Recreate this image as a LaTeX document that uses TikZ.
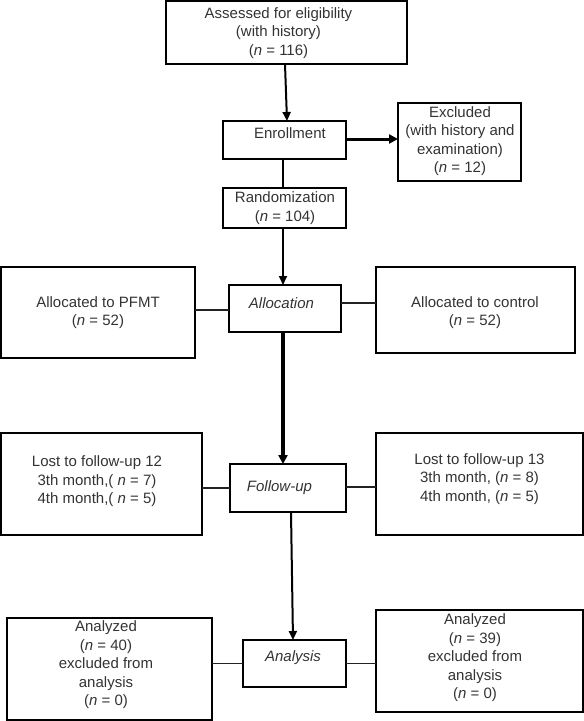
\documentclass[tikz,border=0pt]{standalone}
\usepackage{fontspec}
\setmainfont{Liberation Sans}
\usetikzlibrary{arrows.meta,calc}
\definecolor{txtgray}{HTML}{333333}
\definecolor{linegray}{HTML}{222222}
\tikzset{
  box/.style={draw=black, line width=1.9pt, inner sep=0pt, outer sep=0pt},
  txt/.style={text=txtgray, align=center, inner sep=0pt, font=\fontsize{15}{18.5}\selectfont},
  arr/.style={draw=black, line width=2pt, -{Triangle[length=9pt,width=8pt]}},
  boldarr/.style={draw=black, line width=3pt, -{Triangle[length=9pt,width=9pt]}},
  thickarr/.style={draw=black, line width=4pt, -{Triangle[length=9pt,width=9pt]}},
  plainline/.style={draw=black, line width=2pt},
  thinline/.style={draw=linegray, line width=1.3pt},
}
\begin{document}
\begin{tikzpicture}[x=1pt,y=-1pt]
\useasboundingbox (0,0) rectangle (584,721);
% boxes
\node[box, minimum width=241pt, minimum height=63pt] (assess) at (286.5,32.5) {};
\node[box, minimum width=123pt, minimum height=38pt] (enroll) at (284.5,140) {};
\node[box, minimum width=123pt, minimum height=78pt] (excl) at (459.5,142) {};
\node[box, minimum width=123pt, minimum height=40pt] (rand) at (284.5,208) {};
\node[box, minimum width=194pt, minimum height=91pt] (pfmt) at (98,312.5) {};
\node[box, minimum width=112pt, minimum height=47pt] (alloc) at (285,308.5) {};
\node[box, minimum width=199pt, minimum height=86pt] (ctrl) at (475.5,310) {};
\node[box, minimum width=201pt, minimum height=102pt] (lostl) at (101.5,484) {};
\node[box, minimum width=116pt, minimum height=48pt] (follow) at (288,488) {};
\node[box, minimum width=207pt, minimum height=102pt] (lostr) at (479.5,484) {};
\node[box, minimum width=205pt, minimum height=102pt] (anl) at (109.5,669) {};
\node[box, minimum width=103pt, minimum height=47pt] (analysis) at (294.5,663.5) {};
\node[box, minimum width=207pt, minimum height=102pt] (anr) at (479.5,661) {};
% texts
\node[txt] (tassess) at (278.5,33) {Assessed for eligibility\\(with history)\\(\textit{n} = 116)};
\node[txt] (tenroll) at (290,133) {Enrollment};
\node[txt] (texcl) at (460,141) {Excluded\\(with history and\\examination)\\(\textit{n} = 12)};
\node[txt] (trand) at (285,208) {Randomization\\(\textit{n} = 104)};
\node[txt] (tpfmt) at (98,312.5) {Allocated to PFMT\\(\textit{n} = 52)};
\node[txt] (talloc) at (281.5,303) {\textit{Allocation}};
\node[txt] (tctrl) at (475,312.5) {Allocated to control\\(\textit{n} = 52)};
\node[txt] (tlostl) at (97,481.5) {Lost to follow-up 12\\3th month,( \textit{n} = 7)\\4th month,( \textit{n} = 5)};
\node[txt] (tfollow) at (279.5,488) {\textit{Follow-up}};
\node[txt] (tlostr) at (479.5,479) {Lost to follow-up 13\\3th month, (\textit{n} = 8)\\4th month, (\textit{n} = 5)};
\node[txt] (tanl) at (106,665) {Analyzed\\(\textit{n} = 40)\\excluded from\\analysis\\(\textit{n} = 0)};
\node[txt] (tanalysis) at (293,658) {\textit{Analysis}};
\node[txt] (tanr) at (475,658) {Analyzed\\(\textit{n} = 39)\\excluded from\\analysis\\(\textit{n} = 0)};
% connectors
\draw[arr] ([xshift=-1.5pt]assess.south) -- ([xshift=2.5pt]enroll.north);
\draw[boldarr] ([yshift=1pt]enroll.east) -- ([yshift=1pt]enroll.east -| excl.west);
\draw[plainline] ([xshift=-1.5pt]enroll.south) -- ([xshift=-1.5pt]rand.north);
\draw[arr] ([xshift=-1.5pt]rand.south) -- ([xshift=-2pt]alloc.north);
\draw[thinline] ([yshift=-1.5pt]alloc.west) -- ([yshift=-1.5pt]alloc.west -| pfmt.east);
\draw[thinline] ([yshift=5.5pt]alloc.east) -- ([yshift=5.5pt]alloc.east -| ctrl.west);
\draw[thickarr] ([xshift=-2pt]alloc.south) -- ([xshift=-2pt]alloc.south |- follow.north);
\draw[thinline] (follow.west) -- (follow.west -| lostl.east);
\draw[thinline] ([yshift=1pt]follow.east) -- ([yshift=1pt]follow.east -| lostr.west);
\draw[arr] ([xshift=3pt]follow.south) -- ([xshift=-1.5pt]analysis.north);
\draw[thinline] (analysis.west) -- (analysis.west -| anl.east);
\draw[thinline] (analysis.east) -- (analysis.east -| anr.west);
\end{tikzpicture}
\end{document}
